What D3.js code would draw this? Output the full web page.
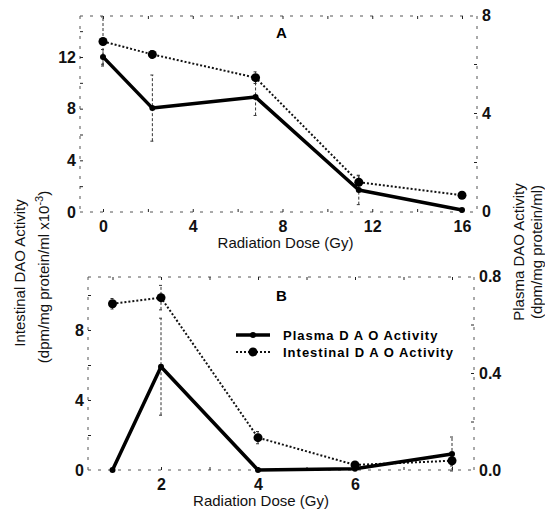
<!DOCTYPE html>
<html>
<head>
<meta charset="utf-8">
<script src="https://cdn.jsdelivr.net/npm/d3@7"></script>
<style>
body { margin: 0; background: #fff; }
svg { font-family: "Liberation Sans", Arial, sans-serif; }
.tick text { font-size: 16px; font-weight: bold; fill: #111; }
.axis path { stroke: #555; stroke-dasharray: 3,7; }
.axis line { stroke: #222; }
</style>
</head>
<body>
<script>
var w = 545;
var h = 517;

// panel A data
var doseA = [0, 2.2, 6.8, 11.4, 16];
var intestinalA = [13.2, 12.2, 10.4, 2.3, 1.3];
var intestinalErrA = [1.9, 0.3, 0.45, 0.5, 0.2];
var plasmaA = [6.29, 4.2, 4.65, 0.86, 0.04];
var plasmaErrA = [0.3, 1.35, 0.75, 0.6, 0];

// panel B data
var doseB = [1, 2, 4, 6, 8];
var intestinalB = [9.5, 9.85, 1.85, 0.29, 0.53];
var intestinalErrB = [0.3, 0.7, 0.35, 0.1, 0.3];
var plasmaB = [0, 0.426, 0, 0.005, 0.066];
var plasmaErrB = [0, 0.2, 0, 0, 0.07];

var svg = d3.select("body")
            .append("svg")
            .attr("width", w)
            .attr("height", h);

function panel(cfg) {
    var x = d3.scaleLinear().domain(cfg.xDom).range(cfg.xRange);
    var yL = d3.scaleLinear().domain(cfg.yLDom).range(cfg.yLRange);
    var yR = d3.scaleLinear().domain(cfg.yRDom).range(cfg.yRRange);
    var left = cfg.frame[0], right = cfg.frame[1], top = cfg.frame[2], bottom = cfg.frame[3];
    var g = svg.append("g");

    // frame with minor ticks
    g.append("g").attr("class", "axis").attr("transform", "translate(0," + top + ")")
        .call(d3.axisBottom(x).tickValues(cfg.xMinor).tickSize(3).tickFormat(""))
        .select("path").attr("d", "M" + left + ",0H" + right);
    g.append("g").attr("class", "axis").attr("transform", "translate(0," + bottom + ")")
        .call(d3.axisTop(x).tickValues(cfg.xMinor).tickSize(3).tickFormat(""))
        .select("path").attr("d", "M" + left + ",0H" + right);
    g.append("g").attr("class", "axis").attr("transform", "translate(" + left + ",0)")
        .call(d3.axisRight(yL).tickValues(cfg.yLMinor).tickSize(3).tickFormat(""))
        .select("path").attr("d", "M0," + top + "V" + bottom);
    g.append("g").attr("class", "axis").attr("transform", "translate(" + right + ",0)")
        .call(d3.axisLeft(yR).tickValues(cfg.yRMinor).tickSize(3).tickFormat(""))
        .select("path").attr("d", "M0," + top + "V" + bottom);

    // labelled ticks
    var xa = g.append("g").attr("class", "axis").attr("transform", "translate(0," + bottom + ")")
        .call(d3.axisBottom(x).tickValues(cfg.xTicks).tickSize(0).tickPadding(9).tickFormat(cfg.xFmt));
    xa.select("path").remove();
    var la = g.append("g").attr("class", "axis").attr("transform", "translate(" + left + ",0)")
        .call(d3.axisLeft(yL).tickValues(cfg.yLTicks).tickSize(0).tickPadding(4));
    la.select("path").remove();
    var ra = g.append("g").attr("class", "axis").attr("transform", "translate(" + right + ",0)")
        .call(d3.axisRight(yR).tickValues(cfg.yRTicks).tickSize(0).tickPadding(5).tickFormat(cfg.yRFmt));
    ra.select("path").remove();

    // error bars
    var errs = [];
    cfg.dose.forEach(function(d, i) {
        errs.push([x(d), yL(cfg.intestinal[i] - cfg.intestinalErr[i]), yL(cfg.intestinal[i] + cfg.intestinalErr[i])]);
        errs.push([x(d), yR(cfg.plasma[i] - cfg.plasmaErr[i]), yR(cfg.plasma[i] + cfg.plasmaErr[i])]);
    });
    g.selectAll(".err").data(errs.filter(function(e) { return e[1] - e[2] > 1; }))
        .enter().append("path")
        .attr("d", function(e) {
            return "M" + e[0] + "," + e[1] + "V" + e[2] + "M" + (e[0] - 2) + "," + e[1] + "h4M" + (e[0] - 2) + "," + e[2] + "h4";
        })
        .attr("stroke", "#333").attr("stroke-width", 1).attr("stroke-dasharray", "3,2").attr("fill", "none");

    var lineI = d3.line().x(function(d, i) { return x(cfg.dose[i]); }).y(function(d) { return yL(d); });
    var lineP = d3.line().x(function(d, i) { return x(cfg.dose[i]); }).y(function(d) { return yR(d); });

    g.append("path").datum(cfg.intestinal).attr("d", lineI)
        .attr("fill", "none").attr("stroke", "#111").attr("stroke-width", 2).attr("stroke-dasharray", "2,2");
    g.append("path").datum(cfg.plasma).attr("d", lineP)
        .attr("fill", "none").attr("stroke", "#000").attr("stroke-width", 3.5).attr("stroke-linejoin", "round");

    g.selectAll(".ptI").data(cfg.intestinal).enter().append("circle")
        .attr("cx", function(d, i) { return x(cfg.dose[i]); })
        .attr("cy", function(d) { return yL(d); })
        .attr("r", 4.5).attr("fill", "#000");
    g.selectAll(".ptP").data(cfg.plasma).enter().append("circle")
        .attr("cx", function(d, i) { return x(cfg.dose[i]); })
        .attr("cy", function(d) { return yR(d); })
        .attr("r", 3).attr("fill", "#000");

    g.append("text").attr("x", cfg.label[1]).attr("y", cfg.label[2])
        .attr("font-size", 15).attr("font-weight", "bold").text(cfg.label[0]);

    g.append("text").attr("x", (cfg.xRange[0] + cfg.xRange[1]) / 2 + 3).attr("y", bottom + 36)
        .attr("text-anchor", "middle").attr("font-size", 15).attr("fill", "#111")
        .text("Radiation Dose (Gy)");
}

panel({
    dose: doseA, intestinal: intestinalA, intestinalErr: intestinalErrA,
    plasma: plasmaA, plasmaErr: plasmaErrA,
    xDom: [0, 16], xRange: [103, 462],
    yLDom: [0, 12], yLRange: [212, 57],
    yRDom: [0, 8], yRRange: [211, 15],
    frame: [80, 477, 16, 212],
    xTicks: [0, 4, 8, 12, 16], xMinor: [0, 2, 4, 6, 8, 10, 12, 14, 16],
    yLTicks: [0, 4, 8, 12], yLMinor: [2, 4, 6, 8, 10, 12, 14],
    yRTicks: [0, 4, 8], yRMinor: [2, 4, 6],
    xFmt: d3.format("d"), yRFmt: d3.format("d"),
    label: ["A", 276, 38]
});

panel({
    dose: doseB, intestinal: intestinalB, intestinalErr: intestinalErrB,
    plasma: plasmaB, plasmaErr: plasmaErrB,
    xDom: [2, 6], xRange: [161, 355],
    yLDom: [0, 8], yLRange: [470, 330],
    yRDom: [0, 0.8], yRRange: [470, 276],
    frame: [88, 474, 277, 470],
    xTicks: [2, 4, 6], xMinor: [1, 2, 3, 4, 5, 6, 7, 8],
    yLTicks: [0, 4, 8], yLMinor: [2, 4, 6, 8, 10],
    yRTicks: [0, 0.4, 0.8], yRMinor: [0.2, 0.4, 0.6],
    xFmt: d3.format("d"), yRFmt: d3.format(".1f"),
    label: ["B", 276, 301]
});

// legend
var legend = svg.append("g").attr("transform", "translate(236,335)");
legend.append("line").attr("x1", 0).attr("x2", 34).attr("y1", 0).attr("y2", 0)
    .attr("stroke", "#000").attr("stroke-width", 3.5);
legend.append("circle").attr("cx", 17).attr("cy", 0).attr("r", 3).attr("fill", "#000");
legend.append("line").attr("x1", 0).attr("x2", 34).attr("y1", 17).attr("y2", 17)
    .attr("stroke", "#111").attr("stroke-width", 2).attr("stroke-dasharray", "2,2");
legend.append("circle").attr("cx", 17).attr("cy", 17).attr("r", 4.5).attr("fill", "#000");
legend.append("text").attr("x", 47).attr("y", 5).attr("font-size", 13).attr("font-weight", "bold")
    .attr("letter-spacing", 1).text("Plasma D A O Activity");
legend.append("text").attr("x", 47).attr("y", 22).attr("font-size", 13).attr("font-weight", "bold")
    .attr("letter-spacing", 1).text("Intestinal D A O Activity");

// axis titles
svg.append("text").attr("transform", "translate(25,273) rotate(-90)")
    .attr("text-anchor", "middle").attr("font-size", 15).attr("fill", "#111")
    .text("Intestinal DAO Activity");
var t2 = svg.append("text").attr("transform", "translate(49,277) rotate(-90)")
    .attr("text-anchor", "middle").attr("font-size", 15).attr("fill", "#111");
t2.append("tspan").text("(dpm/mg protein/ml x10");
t2.append("tspan").attr("dy", -6).attr("font-size", 11).text("-3");
t2.append("tspan").attr("dy", 6).text(")");

svg.append("text").attr("transform", "translate(524,252) rotate(-90)")
    .attr("text-anchor", "middle").attr("font-size", 15).attr("fill", "#111")
    .text("Plasma DAO Activity");
svg.append("text").attr("transform", "translate(542,252) rotate(-90)")
    .attr("text-anchor", "middle").attr("font-size", 15).attr("fill", "#111")
    .text("(dpm/mg protein/ml)");
</script>
</body>
</html>
